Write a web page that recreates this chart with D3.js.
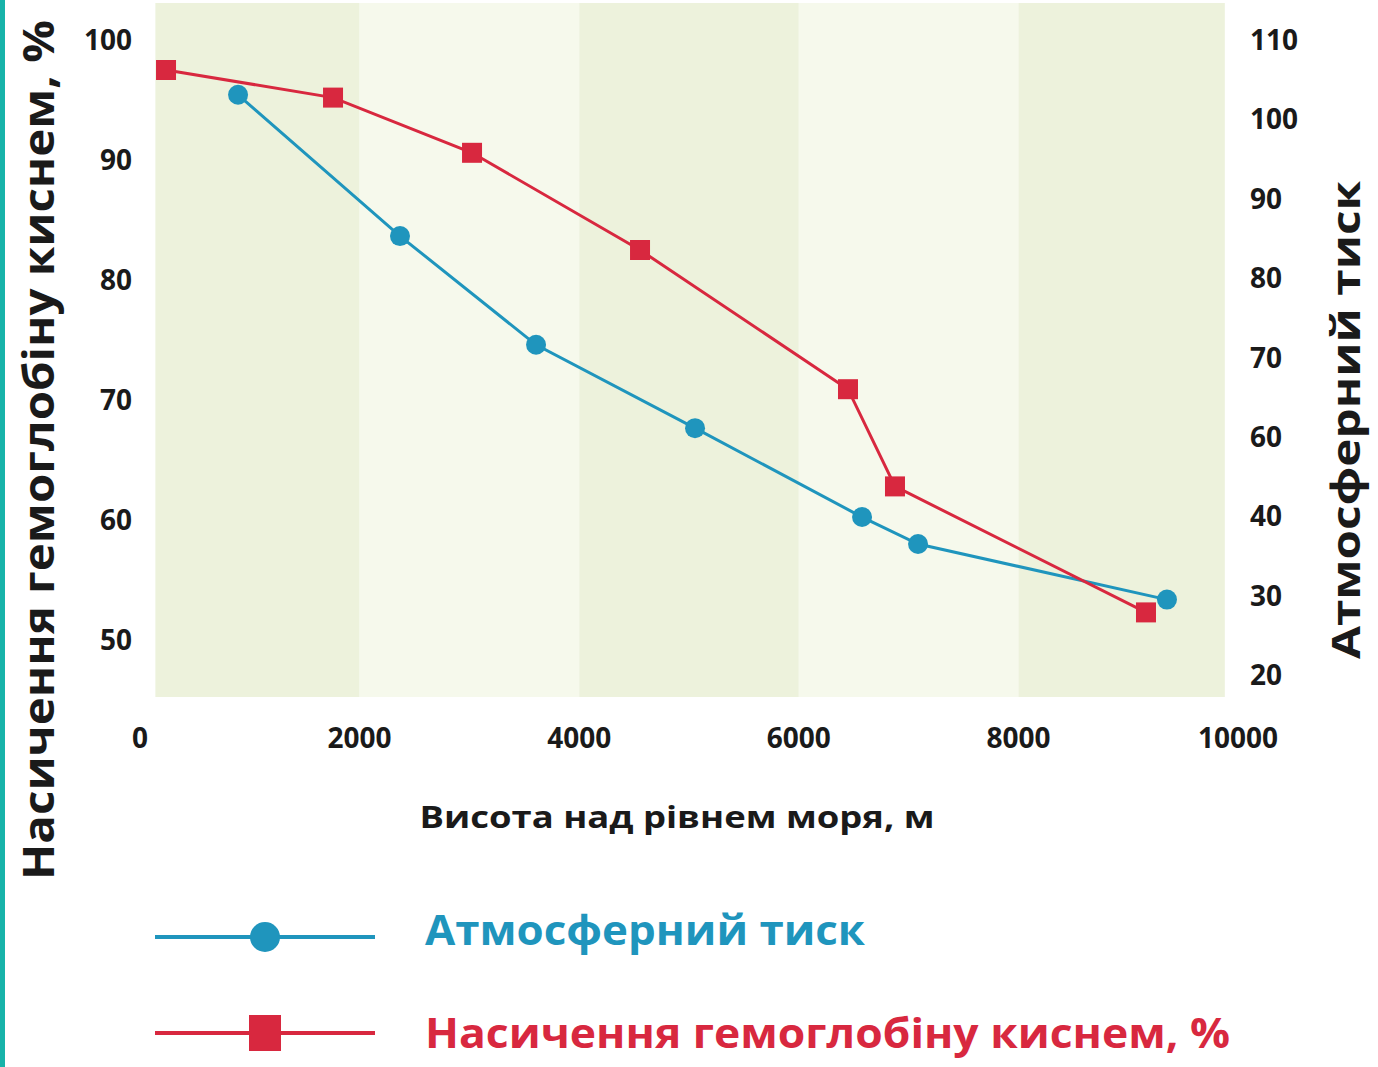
<!DOCTYPE html>
<html>
<head>
<meta charset="utf-8">
<script src="https://cdn.jsdelivr.net/npm/d3@7"></script>
<style>
  body { margin: 0; background: #fff; }
  svg text { font-family: "Open Sans", "DejaVu Sans", sans-serif; font-weight: 700; }
</style>
</head>
<body>
<div id="chart"></div>
<script>
// altitude, m
const pressureAlt = [893, 2368, 3607, 5055, 6576, 7086, 9353];
const pressureVal = [103.1, 85.3, 71.6, 61.1, 49.9, 46.5, 39.5];
const satAlt = [237, 1758, 3024, 4554, 6448, 6876, 9162];
const satVal = [97.5, 95.2, 90.6, 82.5, 70.9, 62.8, 52.3];

const xTicks = [0, 2000, 4000, 6000, 8000, 10000];
const leftTicks = [100, 90, 80, 70, 60, 50];
const rightTicks = [110, 100, 90, 80, 70, 60, 50, 40, 30];
const rightTickLabels = ["110", "100", "90", "80", "70", "60", "40", "30", "20"];
const bands = [[140, 2000], [2000, 4000], [4000, 6000], [6000, 8000], [8000, 9880]];

const W = 1378, H = 1067;
const blue = "#1f95bd", red = "#d8283f", ink = "#1a1a1a";

const svg = d3.select("#chart").append("svg")
    .attr("width", W).attr("height", H);

// teal edge on the left
svg.append("rect").attr("x", 0).attr("y", 0).attr("width", 5).attr("height", H).attr("fill", "#17b3a9");

const x = d3.scaleLinear().domain([0, 10000]).range([140, 1238]);
const yL = d3.scaleLinear().domain([100, 50]).range([40, 640]);
const yR = d3.scaleLinear().domain([110, 30]).range([40, 675]);

const plotTop = 3, plotBottom = 697;

svg.append("g").selectAll("rect")
    .data(bands)
    .enter().append("rect")
    .attr("x", d => x(d[0]))
    .attr("width", d => x(d[1]) - x(d[0]))
    .attr("y", plotTop)
    .attr("height", plotBottom - plotTop)
    .attr("fill", (d, i) => i % 2 === 0 ? "#edf2dc" : "#f6f9ec");

// ticks
svg.append("g").selectAll("text").data(xTicks).enter().append("text")
    .attr("x", d => x(d)).attr("y", 748)
    .attr("text-anchor", "middle").attr("font-size", 28).attr("fill", ink)
    .text(d => d);

svg.append("g").selectAll("text").data(leftTicks).enter().append("text")
    .attr("x", 132).attr("y", d => yL(d) + 10)
    .attr("text-anchor", "end").attr("font-size", 28).attr("fill", ink)
    .text(d => d);

svg.append("g").selectAll("text").data(rightTicks).enter().append("text")
    .attr("x", 1250).attr("y", d => yR(d) + 10)
    .attr("text-anchor", "start").attr("font-size", 28).attr("fill", ink)
    .text((d, i) => rightTickLabels[i]);

// axis titles
svg.append("text")
    .attr("transform", "translate(54,450) rotate(-90)")
    .attr("text-anchor", "middle").attr("font-size", 43).attr("fill", ink)
    .attr("textLength", 860).attr("lengthAdjust", "spacingAndGlyphs")
    .text("Насичення гемоглобіну киснем, %");

svg.append("text")
    .attr("transform", "translate(1360,420) rotate(-90)")
    .attr("text-anchor", "middle").attr("font-size", 40).attr("fill", ink)
    .attr("textLength", 478).attr("lengthAdjust", "spacingAndGlyphs")
    .text("Атмосферний тиск");

svg.append("text")
    .attr("x", 677).attr("y", 828)
    .attr("text-anchor", "middle").attr("font-size", 30).attr("fill", ink)
    .attr("textLength", 515).attr("lengthAdjust", "spacingAndGlyphs")
    .text("Висота над рівнем моря, м");

// series
const pData = pressureAlt.map((a, i) => [a, pressureVal[i]]);
const sData = satAlt.map((a, i) => [a, satVal[i]]);

svg.append("path").datum(pData)
    .attr("fill", "none").attr("stroke", blue).attr("stroke-width", 3)
    .attr("d", d3.line().x(d => x(d[0])).y(d => yR(d[1])));

svg.append("path").datum(sData)
    .attr("fill", "none").attr("stroke", red).attr("stroke-width", 3)
    .attr("d", d3.line().x(d => x(d[0])).y(d => yL(d[1])));

svg.append("g").selectAll("circle").data(pData).enter().append("circle")
    .attr("cx", d => x(d[0])).attr("cy", d => yR(d[1])).attr("r", 10)
    .attr("fill", blue);

svg.append("g").selectAll("rect").data(sData).enter().append("rect")
    .attr("x", d => x(d[0]) - 10).attr("y", d => yL(d[1]) - 10)
    .attr("width", 20).attr("height", 20)
    .attr("fill", red);

// legend
const lg = svg.append("g");
lg.append("line").attr("x1", 155).attr("x2", 375).attr("y1", 937).attr("y2", 937)
    .attr("stroke", blue).attr("stroke-width", 4);
lg.append("circle").attr("cx", 265).attr("cy", 937).attr("r", 15).attr("fill", blue);
lg.append("text").attr("x", 425).attr("y", 945).attr("font-size", 42).attr("fill", blue)
    .attr("textLength", 440).attr("lengthAdjust", "spacingAndGlyphs")
    .text("Атмосферний тиск");

lg.append("line").attr("x1", 155).attr("x2", 375).attr("y1", 1033).attr("y2", 1033)
    .attr("stroke", red).attr("stroke-width", 4);
lg.append("rect").attr("x", 249).attr("y", 1015).attr("width", 32).attr("height", 36).attr("fill", red);
lg.append("text").attr("x", 425).attr("y", 1048).attr("font-size", 42).attr("fill", red)
    .attr("textLength", 805).attr("lengthAdjust", "spacingAndGlyphs")
    .text("Насичення гемоглобіну киснем, %");
</script>
</body>
</html>
